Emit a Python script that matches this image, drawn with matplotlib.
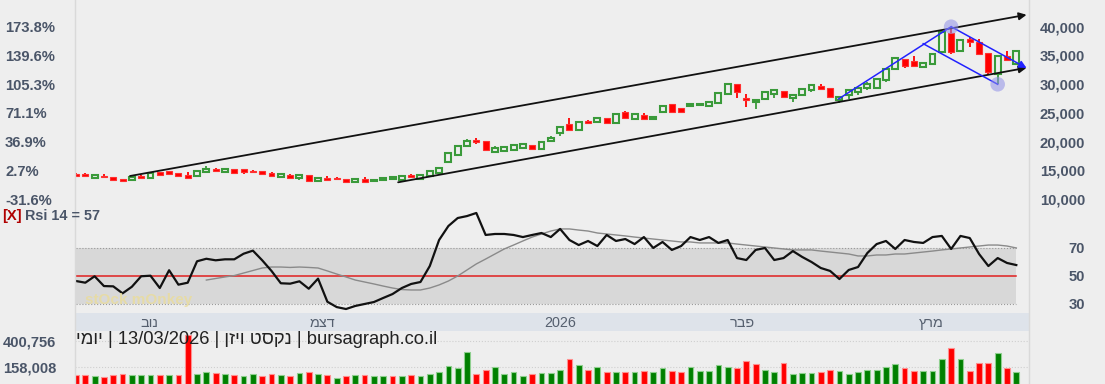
import matplotlib
matplotlib.use('Agg')
import matplotlib.pyplot as plt
import numpy as np
from matplotlib.patches import Rectangle

plt.rcParams['font.family'] = ['Liberation Sans', 'DejaVu Sans']

# ---------------- data ----------------
OPEN = [14200, 14355, 13658, 14058, 13780, 13484, 13310, 13900, 13658, 14651,
        14877, 14529, 14233, 13954, 14651, 15070, 14651, 15225, 15173, 14850,
        14825, 14581, 13780, 14233, 13606, 14128, 13136, 13745, 13640, 13484,
        12910, 13484, 13136, 13257, 13536, 13257, 14233, 13484, 14058, 14477,
        16392, 17611, 19229, 20230, 20100, 18238, 18411, 18586, 18934, 19404,
        18707, 20100, 21441, 23060, 22015, 23450, 23459, 24052, 23286, 25095,
        23929, 24679, 24000, 25201, 26542, 25792, 26194, 26368, 26246, 26767,
        28231, 30024, 27450, 26838, 27412, 28231, 28805, 27673, 28108, 28979,
        29676, 29327, 27238, 28108, 28579, 29275, 29275, 30720, 32635, 34324,
        34028, 33036, 33558, 35647, 38955, 35769, 37858, 37388, 35369, 31713,
        34846, 33506]
HIGH = [14500, 14450, 14200, 14355, 13830, 13530, 13850, 14100, 14650, 14700,
        14930, 14580, 14651, 14980, 15800, 15400, 15230, 15280, 15220, 15000,
        14880, 14630, 14460, 14280, 14230, 14180, 13760, 14058, 13832, 13530,
        13580, 13832, 13410, 13760, 13760, 14000, 14280, 14180, 14880, 15400,
        18150, 19350, 20500, 20675, 20150, 19229, 19110, 19400, 19580, 19450,
        19930, 20900, 22650, 24052, 23510, 23756, 24350, 24100, 24800, 25324,
        24800, 25025, 24470, 26200, 26600, 25850, 26715, 26650, 27000, 28460,
        30130, 30080, 28231, 27290, 28600, 29090, 28860, 28160, 29300, 29820,
        29937, 29380, 27900, 29090, 29380, 30372, 30900, 32740, 34550, 34380,
        34846, 33730, 35300, 39080, 40000, 37790, 38259, 37858, 35420, 35000,
        35769, 35870]
LOW = [13850, 13900, 13600, 13740, 13320, 13150, 13250, 13650, 13600, 14080,
       14250, 14000, 13660, 13900, 14600, 14700, 14600, 14480, 14300, 14650,
       14300, 14000, 13730, 13660, 13310, 13140, 13090, 13320, 13431, 12970,
       12860, 12970, 13090, 13210, 13480, 12910, 13730, 13430, 14000, 14420,
       16300, 17550, 19150, 19526, 18430, 17960, 18360, 18530, 18880, 18600,
       18650, 19950, 20970, 21880, 21960, 23008, 23400, 23230, 23230, 24000,
       23880, 23880, 23810, 25150, 25150, 24923, 25970, 26300, 26190, 26715,
       28180, 27638, 26071, 25618, 27360, 27586, 27650, 26890, 28050, 28544,
       29150, 27650, 26715, 27412, 28108, 29066, 29220, 30372, 32580, 32757,
       33100, 32980, 33500, 35590, 35195, 35710, 36518, 35190, 31591, 29972,
       34150, 33450]
CLOSE = [14150, 13954, 14128, 13780, 13362, 13188, 13780, 13850, 14581, 14128,
         14303, 14058, 13710, 14929, 15225, 15030, 15173, 14529, 14651, 14800,
         14355, 14058, 14407, 13710, 14180, 13188, 13710, 13362, 13590, 13014,
         13536, 13014, 13362, 13710, 13710, 13954, 13780, 14128, 14825, 15347,
         18064, 19282, 20152, 19880, 18481, 18829, 19055, 19352, 19526, 18655,
         19874, 20675, 22590, 21928, 23459, 23350, 24104, 23286, 24747, 24052,
         24747, 23929, 24156, 26142, 25201, 25180, 26490, 26594, 26942, 28404,
         30076, 28683, 27380, 27238, 28544, 29032, 27708, 28108, 29240, 29763,
         29240, 27708, 27847, 29032, 29327, 30024, 30842, 32687, 34498, 33210,
         33157, 33680, 35247, 39025, 35647, 37737, 37388, 35247, 32061, 34951,
         34203, 35821]
# volume in thousands of shares
VOLUME = [83, 83, 70, 64, 80, 90, 80, 80, 80, 80,
          80, 80, 459, 90, 110, 100, 90, 83, 70, 90,
          70, 90, 80, 70, 100, 116, 90, 80, 57, 70,
          80, 80, 70, 70, 70, 70, 80, 70, 90, 110,
          166, 150, 300, 90, 126, 160, 90, 116, 70, 90,
          101, 101, 128, 235, 175, 128, 161, 111, 111, 111,
          111, 121, 111, 151, 121, 111, 161, 121, 121, 175,
          161, 151, 212, 185, 134, 111, 195, 94, 101, 101,
          111, 134, 121, 94, 111, 134, 134, 161, 185, 151,
          121, 121, 121, 235, 336, 235, 121, 195, 195, 286,
          151, 111]
VOLUME = [v * 1000 for v in VOLUME]
RSI = [46.2, 45.0, 49.6, 42.6, 42.4, 37.4, 42.1, 49.6, 50.0, 41.2,
       53.9, 43.6, 45.0, 60.3, 62.1, 61.0, 61.7, 61.7, 65.7, 67.9,
       61.0, 53.4, 44.6, 44.3, 46.0, 40.7, 47.9, 31.4, 27.6, 26.2,
       28.4, 29.8, 31.2, 34.1, 36.9, 41.2, 44.1, 45.5, 56.9, 75.5,
       85.5, 91.2, 92.6, 94.8, 79.1, 79.8, 79.8, 79.1, 77.6, 79.1,
       80.5, 77.6, 83.4, 75.5, 71.9, 74.8, 71.2, 79.1, 74.8, 76.2,
       72.6, 77.6, 69.8, 74.1, 68.4, 71.2, 77.6, 75.5, 77.6, 73.4,
       75.5, 62.6, 61.2, 68.4, 69.8, 61.2, 62.6, 67.6, 63.4, 59.8,
       55.5, 53.4, 47.6, 54.1, 56.2, 66.2, 72.6, 74.8, 69.1, 75.5,
       74.1, 73.4, 77.6, 78.4, 69.1, 78.4, 76.9, 65.5, 56.9, 62.6,
       59.1, 57.6]
RSI_MA_START = 14
RSI_MA = [46.9, 48.0, 49.1, 50.1, 51.9, 53.7, 55.5, 56.2, 56.2, 55.9,
          56.2, 55.9, 55.5, 53.4, 51.2, 49.1, 46.9, 45.5, 44.1, 42.6,
          41.2, 40.1, 39.8, 39.8, 41.2, 43.4, 46.2, 49.8, 54.1, 58.4,
          61.9, 65.5, 69.1, 71.9, 74.8, 77.6, 79.8, 81.9, 83.4, 83.4,
          82.6, 81.9, 80.5, 79.8, 79.1, 78.4, 77.6, 76.9, 76.2, 75.5,
          74.8, 74.1, 74.1, 73.4, 73.4, 73.4, 73.4, 72.6, 71.9, 71.2,
          70.5, 69.8, 69.1, 68.4, 68.4, 68.4, 67.6, 66.9, 66.2, 65.5,
          64.1, 64.1, 64.8, 64.8, 65.5, 65.5, 66.2, 66.9, 67.6, 68.4,
          69.1, 69.8, 70.5, 71.2, 71.9, 71.9, 71.2, 69.8]
PRICE_TICKS = [10000, 15000, 20000, 25000, 30000, 35000, 40000]
PCT_LABELS = ['-31.6%', '2.7%', '36.9%', '71.1%', '105.3%', '139.6%', '173.8%']
RSI_TICKS = [30, 50, 70]
VOL_TICKS = [158008, 400756]
MONTH_POS = [7.9, 26.5, 52.0, 71.6, 91.9]
MONTH_LABELS = ['נוב', 'דצמ', '2026', 'פבר', 'מרץ']
# trend lines (index, price)
UPPER_LINE = [(5.8, 14006), (102.1, 42071)]
LOWER_LINE = [(34.6, 12910), (102.1, 32844)]
BLUE_UP = [(81.9, 27412), (94.0, 40000)]
BLUE_DOWN = [(94.0, 40000), (102.1, 32808)]
BLUE_PAR = [(91.0, 37040), (99.0, 29972)]
PIVOTS = [(94, 40000), (99, 29972)]
RSI_LAST = 57
TITLE_PARTS = ['יומי', '13/03/2026', 'נקסט ויזן', 'bursagraph.co.il']

# ---------------- layout ----------------
W, H = 1105, 384
BG = '#eeeeee'
TXT = '#4a5568'
fig = plt.figure(figsize=(W / 100, H / 100), dpi=100)
fig.patch.set_facecolor(BG)


def ax_px(left, top, right, bottom):
    a = fig.add_axes([left / W, 1 - bottom / H, (right - left) / W, (bottom - top) / H])
    a.set_facecolor(BG)
    for s in a.spines.values():
        s.set_visible(False)
    return a


def vis(s):
    # Hebrew visual order for a renderer without bidi support
    if any('\u0590' <= ch <= '\u05ff' for ch in s):
        return s[::-1]
    return s


X0, DX = 76.0, 9.31
L_PX, R_PX = 74.5, 1029.0
xlim = ((L_PX - X0) / DX, (R_PX - X0) / DX)
ylim_price = (44648 - 174.1 * 207, 44648)

axp = ax_px(L_PX, 0, R_PX, 207)
axr = ax_px(L_PX, 207, R_PX, 313)
axd = ax_px(L_PX, 313, R_PX, 331)
axv = ax_px(L_PX, 331, R_PX, 384)
for a in (axp, axr, axd, axv):
    a.set_xlim(*xlim)
    a.set_xticks([])

# separators
fig.add_artist(plt.Line2D([L_PX / W, L_PX / W], [0, 1], color='#d9d9d9', lw=1))
fig.add_artist(plt.Line2D([R_PX / W, R_PX / W], [0, 1], color='#d9d9d9', lw=1))

# ---------------- price panel ----------------
axp.set_ylim(*ylim_price)
n = len(CLOSE)
idx = np.arange(n)
GREEN = '#3a9a3a'
RED = '#ff0000'
bw = 0.64
min_body = 260
for i in range(n):
    o, h, l, c = OPEN[i], HIGH[i], LOW[i], CLOSE[i]
    lo, hi = min(o, c), max(o, c)
    if hi - lo < min_body:
        mid = (hi + lo) / 2
        lo, hi = mid - min_body / 2, mid + min_body / 2
    if c >= o:
        axp.plot([i, i], [l, lo], color=GREEN, lw=1.3, zorder=2, solid_capstyle='butt')
        axp.plot([i, i], [hi, h], color=GREEN, lw=1.3, zorder=2, solid_capstyle='butt')
        axp.add_patch(Rectangle((i - bw / 2, lo), bw, hi - lo, facecolor=BG,
                                edgecolor=GREEN, lw=1.5, zorder=3))
    else:
        axp.plot([i, i], [l, h], color=RED, lw=1.3, zorder=2, solid_capstyle='butt')
        axp.add_patch(Rectangle((i - bw / 2, lo), bw, hi - lo, facecolor=RED,
                                edgecolor='#ff3030', lw=0.8, zorder=3))


def arrow_line(ax, pts, color, lw=1.3, arrow=True):
    (x1, y1), (x2, y2) = pts
    if arrow:
        ax.annotate('', xy=(x2, y2), xytext=(x1, y1),
                    arrowprops=dict(arrowstyle='-|>', color=color, lw=lw,
                                    mutation_scale=11, shrinkA=0, shrinkB=0), zorder=5)
    else:
        ax.plot([x1, x2], [y1, y2], color=color, lw=lw, zorder=5)


arrow_line(axp, UPPER_LINE, '#111111')
arrow_line(axp, LOWER_LINE, '#111111')
arrow_line(axp, BLUE_UP, '#2222ff', lw=1.1, arrow=False)
arrow_line(axp, BLUE_DOWN, '#2222ff', lw=1.1)
arrow_line(axp, BLUE_PAR, '#2222ff', lw=1.1, arrow=False)
axp.scatter([p[0] for p in PIVOTS], [p[1] for p in PIVOTS], s=110,
            color='#9090e8', alpha=0.55, zorder=6, edgecolors='none')

# left % labels / right price labels
axp.set_yticks(PRICE_TICKS)
axp.set_yticklabels(PCT_LABELS)
axp.tick_params(axis='y', length=0, pad=50, labelsize=10.6, labelcolor=TXT)
for lb in axp.get_yticklabels():
    lb.set_ha('left')
    lb.set_fontweight('bold')
axp2 = axp.twinx()
for s in axp2.spines.values():
    s.set_visible(False)
axp2.set_ylim(*ylim_price)
axp2.set_yticks(PRICE_TICKS)
axp2.set_yticklabels([f'{t:,}' for t in PRICE_TICKS])
axp2.tick_params(axis='y', length=0, pad=40.3, labelsize=10.6, labelcolor=TXT)
for lb in axp2.get_yticklabels():
    lb.set_ha('right')
    lb.set_fontweight('bold')

# ---------------- RSI panel ----------------
rsi_lim = (50 - (313 - 275.7) / 1.4, 50 + (275.7 - 207) / 1.4)
axr.set_ylim(*rsi_lim)
axr.fill_between([0, n - 1], 30, 70, color='#d8d8d8', lw=0, zorder=1)
axr.plot([0, n - 1], [70, 70], color='#9a9a9a', lw=0.8, ls=':', zorder=2)
axr.plot([0, n - 1], [30, 30], color='#9a9a9a', lw=0.8, ls=':', zorder=2)
axr.plot([0, n - 1], [50, 50], color='#e02020', lw=1.1, zorder=2)
axr.plot(idx, RSI, color='#111111', lw=1.6, zorder=4)
axr.plot(np.arange(RSI_MA_START, RSI_MA_START + len(RSI_MA)), RSI_MA,
         color='#8a8a8a', lw=1.0, zorder=3)
axr.yaxis.tick_right()
axr.set_yticks(RSI_TICKS)
axr.set_yticklabels([str(t) for t in RSI_TICKS])
axr.tick_params(axis='y', length=0, pad=40.3, labelsize=10.6, labelcolor=TXT)
for lb in axr.get_yticklabels():
    lb.set_ha('right')
    lb.set_fontweight('bold')
fig.text(2 / W, 1 - 216 / H, '[X]', color='#b00000', fontsize=10.6,
         fontweight='bold', va='center', ha='left')
fig.text(25 / W, 1 - 216 / H, f'Rsi 14 = {RSI_LAST}', color=TXT, fontsize=10.4,
         fontweight='bold', va='center', ha='left')
fig.text(85 / W, 1 - 300 / H, 'stOck mOnkey', color='#eadc9a', fontsize=11,
         fontweight='bold', va='center', ha='left', alpha=0.8, zorder=0)

# ---------------- date band ----------------
axd.set_ylim(0, 1)
axd.set_facecolor('#dee3ea')
axd.set_yticks([])
for p, lab in zip(MONTH_POS, MONTH_LABELS):
    axd.text(p, 0.45, vis(lab), ha='center', va='center', fontsize=10.4, color='#555f6e')

# ---------------- volume panel ----------------
VOL_PER_PX = 9320
axv.set_ylim(0, 53 * VOL_PER_PX)
vcol = [RED]
for i in range(1, n):
    vcol.append('#008000' if CLOSE[i] > CLOSE[i - 1] else RED)
edge = ['#8fcf8f' if c == '#008000' else '#ff9090' for c in vcol]
axv.bar(idx, VOLUME, width=0.62, color=vcol, edgecolor=edge, lw=0.8, zorder=3)
for t in VOL_TICKS:
    axv.axhline(t, color='#cfcfcf', lw=0.8, ls=':', zorder=1)
axv.set_yticks(VOL_TICKS)
axv.set_yticklabels([f'{t:,}' for t in VOL_TICKS])
axv.tick_params(axis='y', length=0, pad=51.5, labelsize=10.6, labelcolor=TXT)
for lb in axv.get_yticklabels():
    lb.set_ha('left')
    lb.set_fontweight('bold')
title = ' | '.join(vis(p) for p in TITLE_PARTS)
fig.text(76 / W, 1 - 340 / H, title, color='#222222', fontsize=13.2,
         va='center', ha='left', zorder=10)

fig.savefig('out.png', dpi=100, facecolor=BG)
